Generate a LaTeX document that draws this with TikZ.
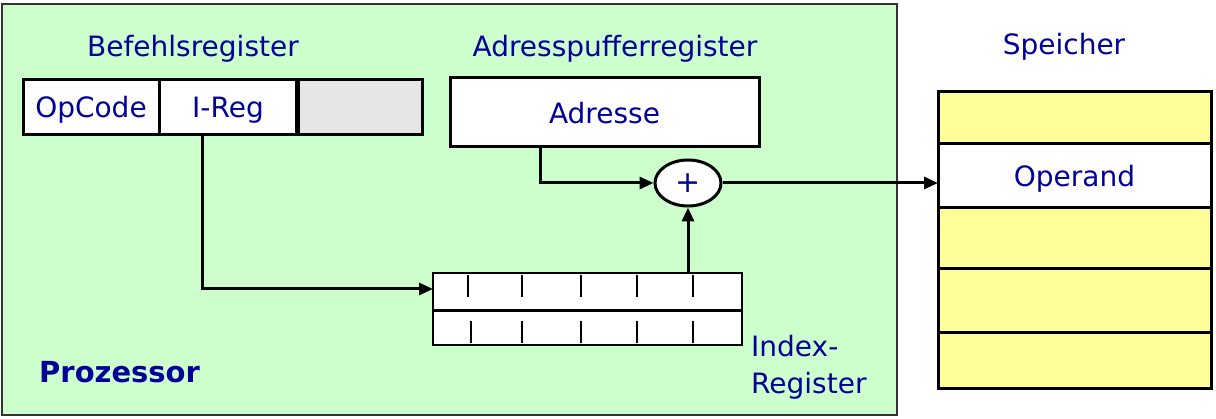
\documentclass[tikz,border=0pt]{standalone}
\usepackage{fontspec}
\setmainfont{DejaVu Sans}
\usetikzlibrary{arrows.meta,shapes.geometric}
\definecolor{procgreen}{HTML}{CCFFCC}
\definecolor{txtblue}{HTML}{000099}
\definecolor{memyellow}{HTML}{FFFF99}
\definecolor{cellgray}{HTML}{E6E6E6}
\tikzset{
  lbl/.style={text=txtblue,font=\fontsize{28}{37}\selectfont,inner sep=0pt,anchor=base},
  cell/.style={draw=black,line width=3pt,fill=white,inner sep=0pt},
  conn/.style={draw=black,line width=3pt},
  arr/.style={conn,-{Triangle[length=14pt,width=12pt]}},
  tick/.style={draw=black,line width=2pt},
}
\begin{document}
\begin{tikzpicture}[x=1pt,y=-1pt]
\useasboundingbox (0,0) rectangle (1216,419);
\fill[white] (0,0) rectangle (1216,419);
% Processor
\draw[fill=procgreen,draw=black!80,line width=2pt] (2,4) rectangle (897,415);
\node[lbl] (befl) at (193,57) {Befehlsregister};
\node[lbl] (adrl) at (615,57) {Adresspufferregister};
\node[lbl] (speil) at (1064,55) {Speicher};
% Befehlsregister
\node[cell,minimum width=136pt,minimum height=55pt] (opc) at (91,107.5) {};
\node[lbl] at (91,118) {OpCode};
\node[cell,minimum width=137pt,minimum height=55pt] (ireg) at (227.5,107.5) {};
\node[lbl] at (228,118) {I-Reg};
\node[cell,fill=cellgray,minimum width=126pt,minimum height=55pt] (rest) at (359,107.5) {};
\draw[line width=4pt] (ireg.north east) -- (ireg.south east);
% Adresse
\node[cell,minimum width=309pt,minimum height=69pt] (adr) at (604.5,112.5) {};
\node[lbl] at (604.5,124) {Adresse};
% plus
\node[draw=black,line width=3pt,fill=white,ellipse,minimum width=66pt,minimum height=46pt,inner sep=0pt] (plus) at (688,183) {};
\node[text=txtblue,font=\fontsize{30}{37}\selectfont,inner sep=0pt] at (688,183) {+};
% Index register
\node[cell,line width=2pt,minimum width=309pt,minimum height=72pt] (idx) at (587.5,309) {};
\draw[line width=3pt] (433,311) -- (742,311);
\foreach \x in {468,522,581,637,693} {
  \draw[tick] (\x,275) -- (\x,297);
}
\foreach \x in {471,522,581,637,693} {
  \draw[tick] (\x,321) -- (\x,343);
}
\node[lbl,anchor=base west] (idxl) at (751,357) {Index-};
\node[lbl,anchor=base west] (idxl2) at (751,394) {Register};
\node[text=txtblue,font=\bfseries\fontsize{29}{34}\selectfont,inner sep=0pt,anchor=base west] (proz) at (39,383) {Prozessor};
% Memory
\foreach \a/\b/\c in {92/144/memyellow,144/208/white,208/269/memyellow,269/333/memyellow,333/389/memyellow} {
  \draw[fill=\c,line width=3pt] (938,\a) rectangle (1211,\b);
}
\coordinate (memin) at (938,183);
\node[lbl] (oper) at (1074.5,187) {Operand};
% connectors
\coordinate (ad1) at (540,147);
\draw[arr] (ad1) |- (plus.west);
\draw[arr] (plus.east) -- (memin);
\coordinate (ir1) at (202,135);
\draw[arr] (ir1) |- (433,289);
\coordinate (ix1) at (688,273);
\draw[arr] (ix1) -- (plus.south);
\end{tikzpicture}
\end{document}
